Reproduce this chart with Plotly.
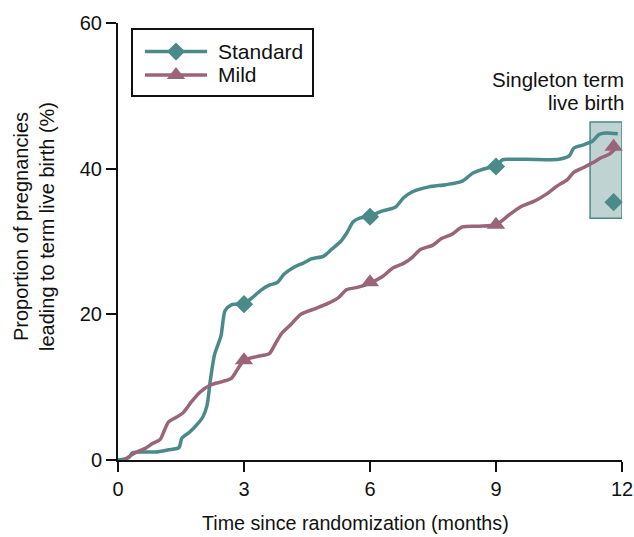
import plotly.graph_objects as go

# Standard curve
std_x = [0, 0.25, 0.35, 0.6, 0.9, 1.2, 1.45, 1.52, 1.7, 1.9, 2.02, 2.12, 2.2, 2.3, 2.45, 2.55, 2.7, 3.0,
         3.2, 3.4, 3.6, 3.8, 3.95, 4.2, 4.4, 4.6, 4.9, 5.1, 5.3, 5.45, 5.6, 5.75, 6.0, 6.3, 6.6, 6.8, 7.0,
         7.4, 7.8, 8.2, 8.45, 8.8, 9.0, 9.15, 9.3, 10.5, 10.75, 10.85, 11.1, 11.3, 11.45, 11.6, 11.9]
std_y = [0, 0.3, 1.0, 1.1, 1.1, 1.4, 1.7, 3.0, 3.8, 5.0, 5.9, 7.5, 11, 14.5, 17, 20.5, 21.3, 21.5,
         22.3, 23.3, 24, 24.4, 25.5, 26.5, 27, 27.6, 28, 29, 30, 31.2, 32.7, 33.2, 33.5, 34.2, 34.7, 36, 36.8,
         37.5, 37.8, 38.3, 39.4, 40.1, 40.3, 41.2, 41.3, 41.3, 41.8, 42.8, 43.3, 43.8, 44.7, 44.9, 44.8]

# Mild curve
mild_x = [0.15, 0.3, 0.45, 0.65, 0.83, 1.0, 1.1, 1.2, 1.4, 1.55, 1.75, 1.95, 2.2, 2.5, 2.7, 2.85, 3.0,
          3.3, 3.6, 3.75, 3.9, 4.1, 4.35, 4.7, 5.0, 5.25, 5.45, 5.7, 6.0, 6.3, 6.55, 6.8, 7.0, 7.2, 7.5,
          7.7, 7.95, 8.2, 8.6, 9.0, 9.3, 9.6, 9.9, 10.2, 10.45, 10.7, 10.85, 11.1, 11.3, 11.5, 11.7, 11.85]
mild_y = [0, 0.6, 1.1, 1.6, 2.3, 2.8, 4, 5.2, 5.9, 6.5, 8, 9.3, 10.3, 10.8, 11.2, 12.5, 13.7,
          14.2, 14.6, 16, 17.4, 18.5, 20, 20.8, 21.5, 22.3, 23.4, 23.7, 24.3, 25.2, 26.4, 27, 27.8, 28.9, 29.5,
          30.4, 31, 32, 32.1, 32.3, 33.6, 34.8, 35.5, 36.5, 37.6, 38.5, 39.5, 40.2, 40.8, 41.5, 42, 42.8]

# Markers
std_mx = [3, 6, 9, 11.8]
std_my = [21.4, 33.4, 40.3, 35.4]
mild_mx = [3, 6, 9, 11.8]
mild_my = [13.7, 24.4, 32.3, 43.0]

# Singleton box
box_x = [11.24, 12.0]
box_y = [33.2, 46.4]

series_names = ["Standard", "Mild"]
x_ticks = [0, 3, 6, 9, 12]
y_ticks = [0, 20, 40, 60]

TEAL = "#4a8a88"
MAUVE = "#9a6479"
INK = "#111111"
FONT = "Liberation Sans, Arial, sans-serif"

W, H = 634, 537
L, R, T, B = 118, 12, 23, 77
PW, PH = W - L - R, H - T - B


def px(xp):
    return (xp - L) / PW


def py(yp):
    return (H - B - yp) / PH


fig = go.Figure()

fig.add_shape(type="rect", x0=box_x[0], x1=box_x[1], y0=box_y[0], y1=box_y[1],
              fillcolor="#bfd3d3", line=dict(color=TEAL, width=1.5), layer="below")

fig.add_trace(go.Scatter(x=std_x, y=std_y, mode="lines",
                         line=dict(color=TEAL, width=3.5, shape="spline", smoothing=0.7),
                         showlegend=False, cliponaxis=False))
fig.add_trace(go.Scatter(x=mild_x, y=mild_y, mode="lines",
                         line=dict(color=MAUVE, width=3.5, shape="spline", smoothing=0.7),
                         showlegend=False, cliponaxis=False))
fig.add_trace(go.Scatter(x=std_mx, y=std_my, mode="markers",
                         marker=dict(symbol="diamond", size=14, color=TEAL),
                         showlegend=False, cliponaxis=False))
fig.add_trace(go.Scatter(x=mild_mx, y=mild_my, mode="markers",
                         marker=dict(symbol="triangle-up", size=16, color=MAUVE),
                         showlegend=False, cliponaxis=False))

# Manual legend drawn on an overlay axis in pixel units
fig.add_shape(type="rect", xref="paper", yref="paper", x0=px(132), x1=px(313), y0=py(96), y1=py(29),
              fillcolor="white", line=dict(color=INK, width=2), layer="below")
leg_rows = [(51.5, TEAL, "diamond", 14), (75, MAUVE, "triangle-up", 16)]
for name, (yy, col, sym, sz) in zip(series_names, leg_rows):
    fig.add_trace(go.Scatter(x=[145, 207], y=[yy, yy], xaxis="x2", yaxis="y2", mode="lines",
                             line=dict(color=col, width=3.5), showlegend=False, hoverinfo="skip"))
    fig.add_trace(go.Scatter(x=[176], y=[yy], xaxis="x2", yaxis="y2", mode="markers",
                             marker=dict(symbol=sym, size=sz, color=col), showlegend=False, hoverinfo="skip"))
    fig.add_annotation(x=px(216), y=py(yy - 0.5), xref="paper", yref="paper", text=name, showarrow=False,
                       xanchor="left", yanchor="middle", font=dict(family=FONT, size=21, color=INK))

# Box label
fig.add_annotation(x=px(626), y=py(79), xref="paper", yref="paper", text="Singleton term",
                   showarrow=False, xanchor="right", yanchor="middle",
                   font=dict(family=FONT, size=20.5, color=INK))
fig.add_annotation(x=px(626), y=py(103), xref="paper", yref="paper", text="live birth",
                   showarrow=False, xanchor="right", yanchor="middle",
                   font=dict(family=FONT, size=20.5, color=INK))

# Axis titles
fig.add_annotation(x=px(355.5), y=py(523), xref="paper", yref="paper",
                   text="Time since randomization (months)", showarrow=False,
                   xanchor="center", yanchor="middle", font=dict(family=FONT, size=19.7, color=INK))
fig.add_annotation(x=px(34), y=py(227), xref="paper", yref="paper",
                   text="Proportion of pregnancies<br>leading to term live birth (%)", showarrow=False,
                   textangle=-90, xanchor="center", yanchor="middle",
                   font=dict(family=FONT, size=20, color=INK))

fig.update_layout(
    width=W, height=H,
    margin=dict(l=L, r=R, t=T, b=B),
    plot_bgcolor="white", paper_bgcolor="white",
    font=dict(family=FONT, size=20, color=INK),
    showlegend=False,
    xaxis=dict(range=[0, 12], tickvals=x_ticks, showgrid=False, zeroline=False, automargin=False,
               showline=True, linecolor=INK, linewidth=2, ticks="outside", ticklen=10, tickwidth=1.5,
               tickcolor=INK, tickfont=dict(size=20)),
    yaxis=dict(range=[0, 60], tickvals=y_ticks, showgrid=False, zeroline=False, automargin=False,
               showline=True, linecolor=INK, linewidth=2, ticks="outside", ticklen=10, tickwidth=1.5,
               tickcolor=INK, tickfont=dict(size=20)),
    xaxis2=dict(range=[L, W - R], overlaying="x", visible=False, fixedrange=True),
    yaxis2=dict(range=[H - B, T], overlaying="y", visible=False, fixedrange=True),
)

fig.write_html("out.html")
